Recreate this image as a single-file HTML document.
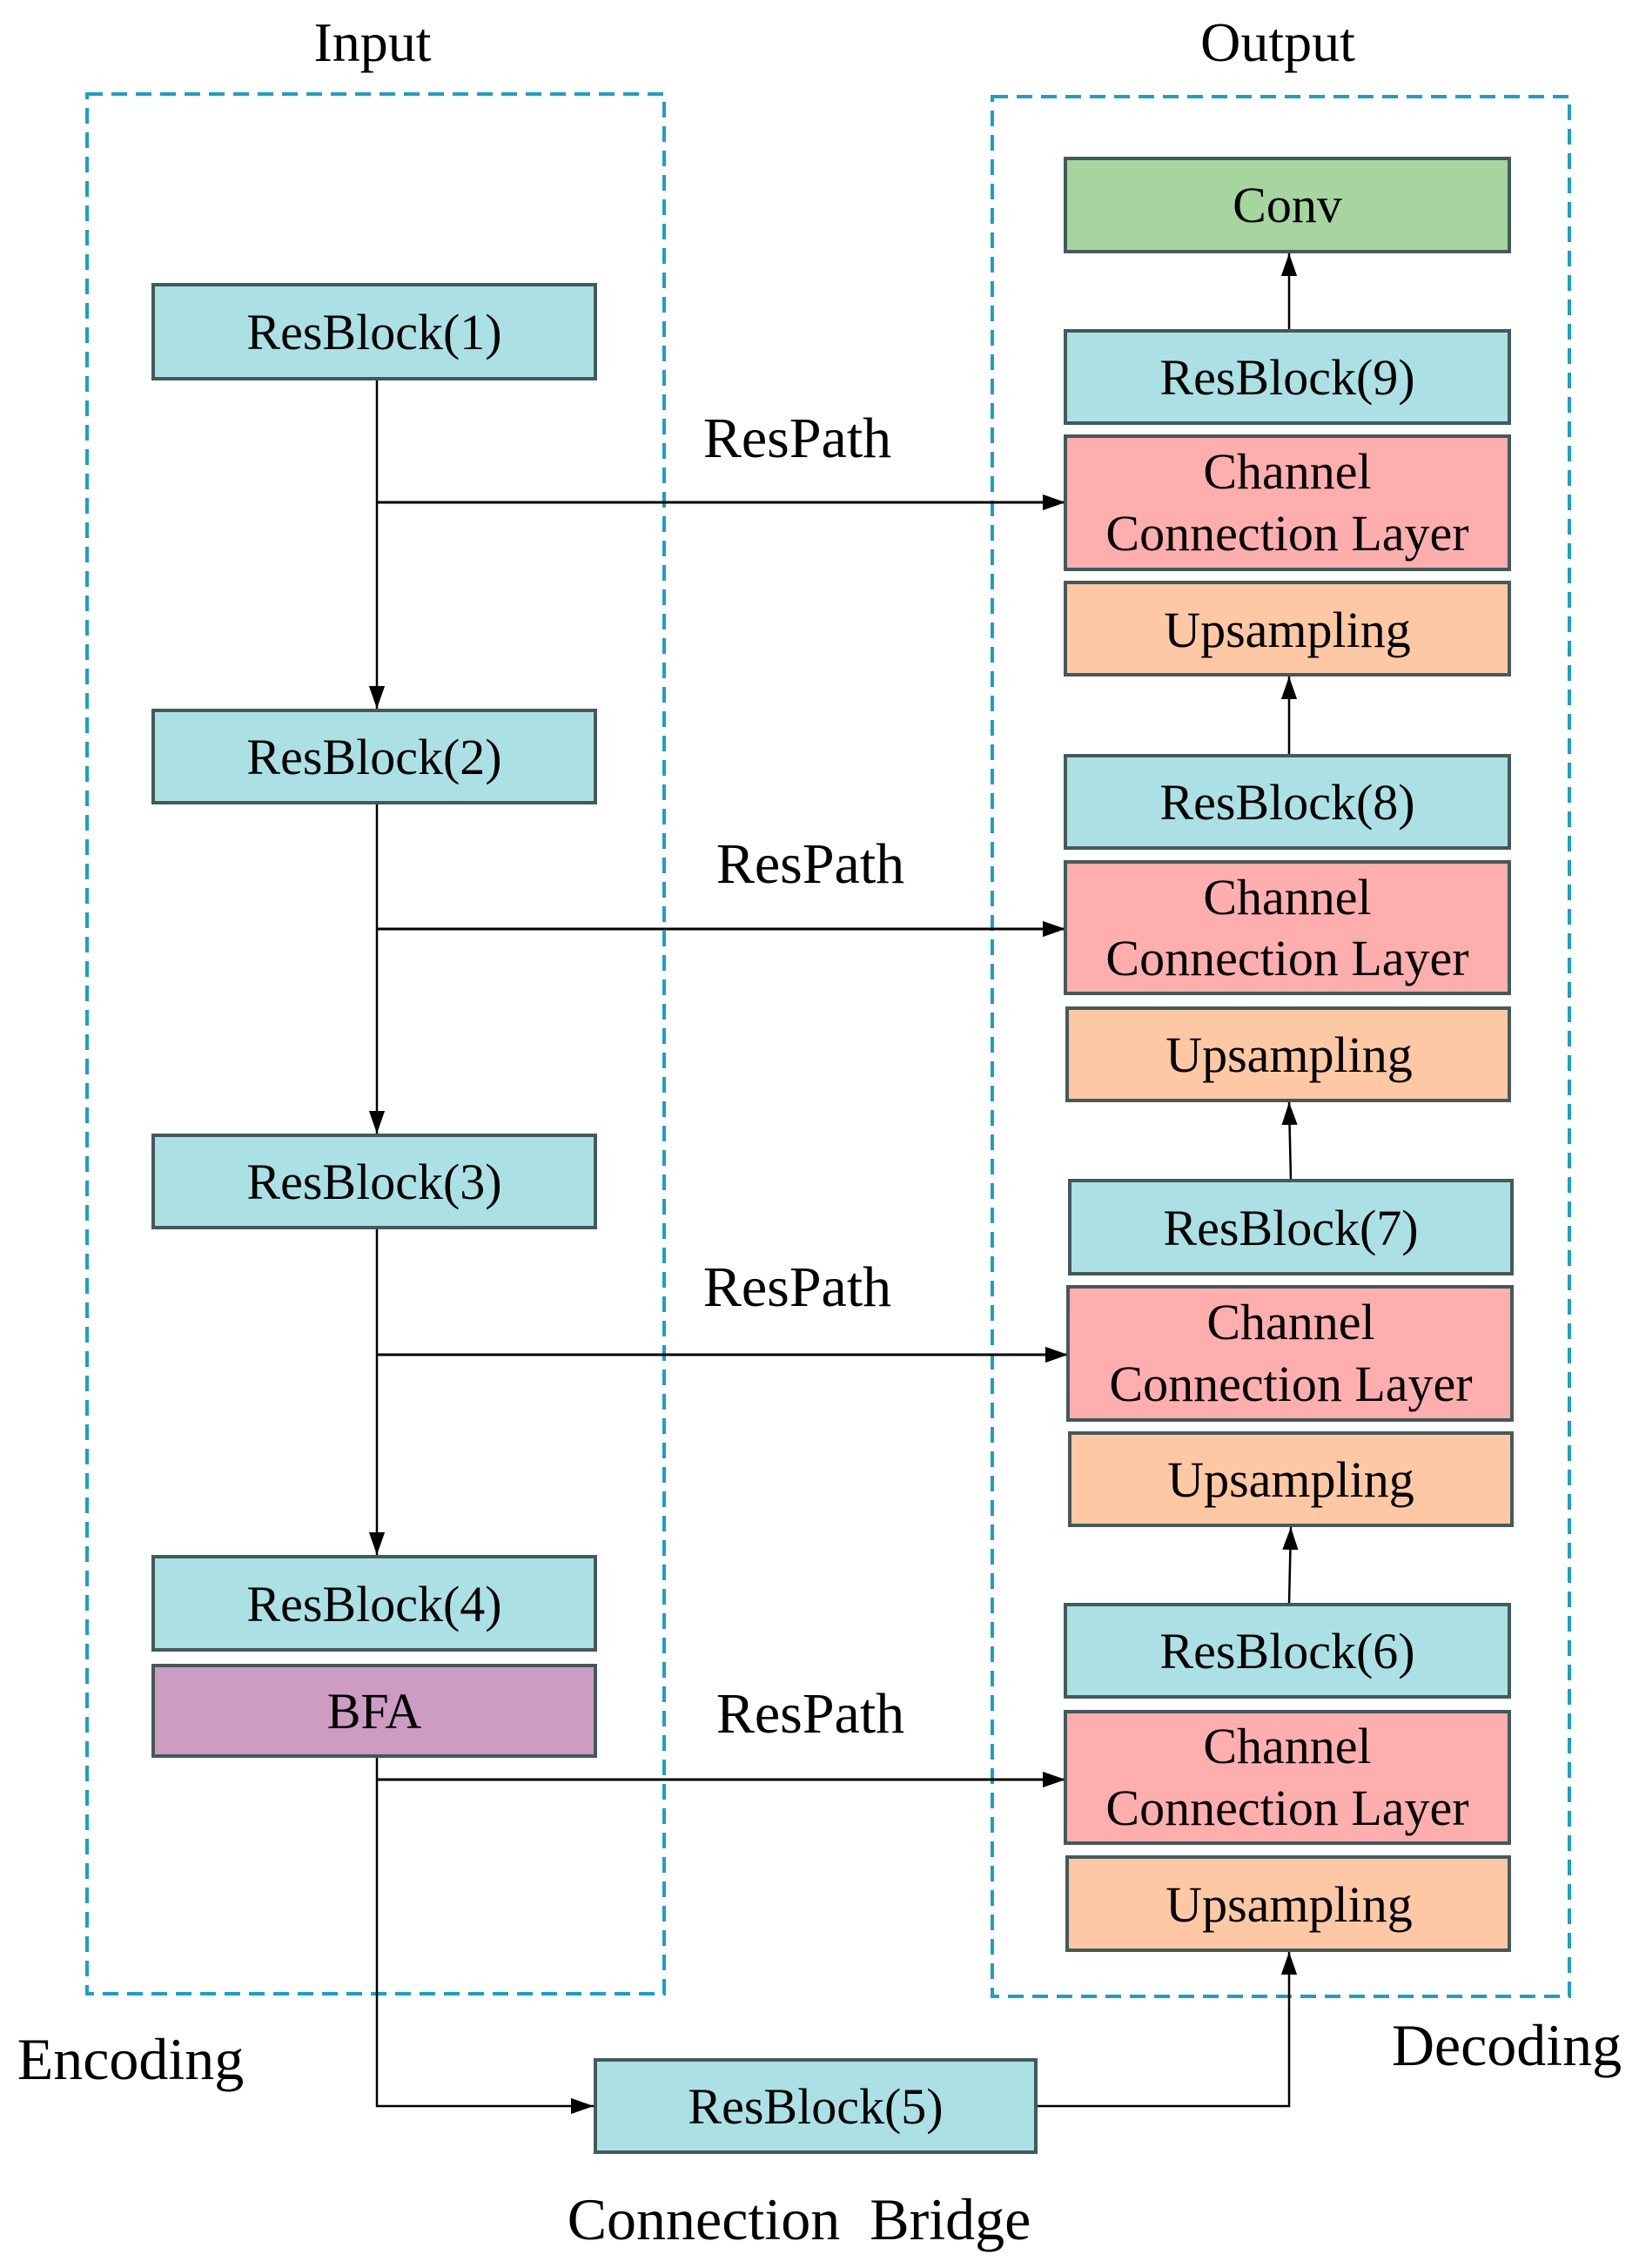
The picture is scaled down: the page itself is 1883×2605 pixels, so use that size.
<!DOCTYPE html>
<html><head><meta charset="utf-8"><style>
html,body{margin:0;padding:0;background:#fff}
svg{display:block}
text{font-family:"Times New Roman","Liberation Serif",serif;fill:#000}
</style></head><body>
<svg width="1883" height="2605" viewBox="0 0 1883 2605" xmlns="http://www.w3.org/2000/svg">
<defs>
<marker id="b" viewBox="0 0 10 10" refX="10" refY="5" markerWidth="26" markerHeight="26" orient="auto" markerUnits="userSpaceOnUse"><path d="M0,1.5 L10,5 L0,8.5 z" fill="#000"/></marker>
</defs>
<rect x="100" y="108" width="663" height="2182" fill="none" stroke="#1aa0c8" stroke-width="4" stroke-dasharray="18,10"/>
<rect x="1140" y="111" width="663" height="2182" fill="none" stroke="#1aa0c8" stroke-width="4" stroke-dasharray="18,10"/>
<g font-size="64" text-anchor="middle">
<text x="428" y="70">Input</text>
<text x="1468" y="70">Output</text>
</g>
<g font-size="68" text-anchor="middle">
<text x="150" y="2388">Encoding</text>
<text x="1731" y="2372">Decoding</text>
<text x="918" y="2572" xml:space="preserve">Connection  Bridge</text>
</g>
<g font-size="66" text-anchor="middle">
<text x="916" y="525">ResPath</text>
<text x="931" y="1014">ResPath</text>
<text x="916" y="1500">ResPath</text>
<text x="931" y="1990">ResPath</text>
</g>
<g stroke="#000" stroke-width="2.5" fill="none">
<line x1="433" y1="435" x2="433" y2="814" marker-end="url(#b)"/>
<line x1="433" y1="922" x2="433" y2="1302" marker-end="url(#b)"/>
<line x1="433" y1="1410" x2="433" y2="1786" marker-end="url(#b)"/>
<line x1="433" y1="577" x2="1224" y2="577" stroke-width="3" marker-end="url(#b)"/>
<line x1="433" y1="1067" x2="1224" y2="1067" stroke-width="3" marker-end="url(#b)"/>
<line x1="433" y1="1556" x2="1227" y2="1556" stroke-width="3" marker-end="url(#b)"/>
<line x1="433" y1="2044" x2="1224" y2="2044" stroke-width="3" marker-end="url(#b)"/>
<polyline points="433,2017 433,2419 682,2419" marker-end="url(#b)"/>
<polyline points="1190,2419 1481,2419 1481,2242" marker-end="url(#b)"/>
<line x1="1481" y1="380" x2="1481" y2="291" marker-end="url(#b)"/>
<line x1="1481" y1="868" x2="1481" y2="777" marker-end="url(#b)"/>
<line x1="1483" y1="1356" x2="1481" y2="1266" marker-end="url(#b)"/>
<line x1="1481" y1="1843" x2="1483" y2="1754" marker-end="url(#b)"/>
</g>
<g stroke="#44595a" stroke-width="4">
<rect x="176" y="327" width="508" height="108" fill="#abe1e4"/>
<rect x="176" y="816" width="508" height="106" fill="#abe1e4"/>
<rect x="176" y="1304" width="508" height="106" fill="#abe1e4"/>
<rect x="176" y="1788" width="508" height="107" fill="#abe1e4"/>
<rect x="176" y="1913" width="508" height="104" fill="#cc9cc2"/>
<rect x="684" y="2366" width="506" height="106" fill="#abe1e4"/>
<rect x="1224" y="182" width="510" height="107" fill="#a6d5a0"/>
<rect x="1224" y="380" width="510" height="106" fill="#abe1e4"/>
<rect x="1224" y="501" width="510" height="153" fill="#ffaeae"/>
<rect x="1224" y="669" width="510" height="106" fill="#fec8a4"/>
<rect x="1224" y="868" width="510" height="106" fill="#abe1e4"/>
<rect x="1224" y="990" width="510" height="151" fill="#ffaeae"/>
<rect x="1226" y="1158" width="508" height="106" fill="#fec8a4"/>
<rect x="1229" y="1356" width="508" height="107" fill="#abe1e4"/>
<rect x="1227" y="1478" width="510" height="153" fill="#ffaeae"/>
<rect x="1229" y="1646" width="508" height="106" fill="#fec8a4"/>
<rect x="1224" y="1843" width="510" height="106" fill="#abe1e4"/>
<rect x="1224" y="1966" width="510" height="151" fill="#ffaeae"/>
<rect x="1226" y="2133" width="508" height="107" fill="#fec8a4"/>
</g>
<g font-size="58" text-anchor="middle">
<text x="430" y="401">ResBlock(1)</text>
<text x="430" y="889">ResBlock(2)</text>
<text x="430" y="1377">ResBlock(3)</text>
<text x="430" y="1862">ResBlock(4)</text>
<text x="430" y="1985">BFA</text>
<text x="937" y="2439">ResBlock(5)</text>
<text x="1479" y="255">Conv</text>
<text x="1479" y="453">ResBlock(9)</text>
<text x="1479" y="561">Channel</text>
<text x="1479" y="632">Connection Layer</text>
<text x="1479" y="743">Upsampling</text>
<text x="1479" y="941">ResBlock(8)</text>
<text x="1479" y="1050">Channel</text>
<text x="1479" y="1120">Connection Layer</text>
<text x="1481" y="1231">Upsampling</text>
<text x="1483" y="1430">ResBlock(7)</text>
<text x="1483" y="1538">Channel</text>
<text x="1483" y="1609">Connection Layer</text>
<text x="1483" y="1719">Upsampling</text>
<text x="1479" y="1916">ResBlock(6)</text>
<text x="1479" y="2025">Channel</text>
<text x="1479" y="2096">Connection Layer</text>
<text x="1481" y="2207">Upsampling</text>
</g>
</svg>
</body></html>
